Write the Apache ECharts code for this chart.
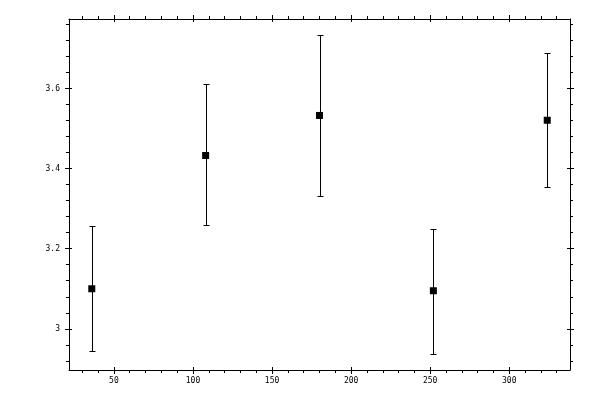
<!DOCTYPE html>
<html>
<head>
<meta charset="utf-8">
<script src="https://cdn.jsdelivr.net/npm/echarts@6/dist/echarts.min.js"></script>
<style>html,body{margin:0;padding:0;background:#fff;}#c{width:600px;height:400px;}</style>
</head>
<body>
<div id="c"></div>
<script>
var xValues = [36, 108, 180, 252, 324];
var yValues = [3.100, 3.433, 3.533, 3.095, 3.521];
var yLow    = [2.944, 3.259, 3.333, 2.937, 3.354];
var yHigh   = [3.256, 3.611, 3.734, 3.250, 3.688];

var xMajorTicks = [50, 100, 150, 200, 250, 300];
var xMinorTicks = [30, 40, 60, 70, 80, 90, 110, 120, 130, 140, 160, 170, 180, 190, 210, 220, 230, 240, 260, 270, 280, 290, 310, 320, 330];
var yMajorTicks = [3, 3.2, 3.4, 3.6];
var yMinorTicks = [2.92, 2.96, 3.04, 3.08, 3.12, 3.16, 3.24, 3.28, 3.32, 3.36, 3.44, 3.48, 3.52, 3.56, 3.64, 3.68, 3.72, 3.76];

var xMin = 21.6, xMax = 338.4;
var yMin = 2.897, yMax = 3.774;

var FONT = 'DejaVu Sans Mono';

function makeAxes(pos, min, max, major, minor) {
  var base = {
    type: 'value', position: pos, min: min, max: max,
    splitLine: {show: false},
    axisLine: {show: false, onZero: false, lineStyle: {color: '#000', width: 1}},
    axisLabel: {show: false},
    axisTick: {show: false}
  };
  function clone(extra) {
    var o = JSON.parse(JSON.stringify(base));
    for (var k in extra) o[k] = extra[k];
    return o;
  }
  var withLabel = (pos === 'bottom' || pos === 'left');
  return [
    clone({
      axisLine: {show: true, onZero: false, lineStyle: {color: '#000', width: 1}},
      axisTick: {show: true, inside: false, length: 4, customValues: major, lineStyle: {color: '#000', width: 1}},
      axisLabel: withLabel ? {
        show: true, customValues: major, color: '#000', fontFamily: FONT, fontSize: 8,
        margin: (pos === 'bottom' ? 7 : 9),
        formatter: function (v) { return String(Math.round(v * 100) / 100); }
      } : {show: false}
    }),
    clone({
      axisTick: {show: true, inside: true, length: 3, customValues: major, lineStyle: {color: '#000', width: 1}}
    }),
    clone({
      axisTick: {show: true, inside: false, length: 3, customValues: minor, lineStyle: {color: '#000', width: 1}}
    })
  ];
}

var xAxes = makeAxes('bottom', xMin, xMax, xMajorTicks, xMinorTicks)
  .concat(makeAxes('top', xMin, xMax, xMajorTicks, xMinorTicks));
var yAxes = makeAxes('left', yMin, yMax, yMajorTicks, yMinorTicks)
  .concat(makeAxes('right', yMin, yMax, yMajorTicks, yMinorTicks));

var barData = xValues.map(function (x, i) { return [x, yLow[i], yHigh[i]]; });
var pointData = xValues.map(function (x, i) { return [x, yValues[i]]; });

var chart = echarts.init(document.getElementById('c'));
chart.setOption({
  animation: false,
  backgroundColor: '#fff',
  grid: {left: 69, right: 30, top: 19, bottom: 30, containLabel: false},
  xAxis: xAxes,
  yAxis: yAxes,
  series: [
    {
      type: 'custom',
      xAxisIndex: 0, yAxisIndex: 0,
      data: barData,
      encode: {x: 0, y: [1, 2]},
      renderItem: function (params, api) {
        var x = api.value(0);
        var pLo = api.coord([x, api.value(1)]);
        var pHi = api.coord([x, api.value(2)]);
        var cx = Math.round(pLo[0]) + 0.5;
        var yLoPx = Math.round(pLo[1]) + 0.5;
        var yHiPx = Math.round(pHi[1]) + 0.5;
        var w = 3;
        var st = {stroke: '#000', lineWidth: 1};
        return {
          type: 'group',
          children: [
            {type: 'line', shape: {x1: cx, y1: yHiPx, x2: cx, y2: yLoPx}, style: st},
            {type: 'line', shape: {x1: cx - w, y1: yHiPx, x2: cx + w, y2: yHiPx}, style: st},
            {type: 'line', shape: {x1: cx - w, y1: yLoPx, x2: cx + w, y2: yLoPx}, style: st}
          ]
        };
      },
      z: 2
    },
    {
      type: 'scatter',
      xAxisIndex: 0, yAxisIndex: 0,
      data: pointData,
      symbol: 'rect',
      symbolSize: 7,
      itemStyle: {color: '#000', opacity: 1},
      emphasis: {disabled: true},
      z: 3
    }
  ]
});
</script>
</body>
</html>
